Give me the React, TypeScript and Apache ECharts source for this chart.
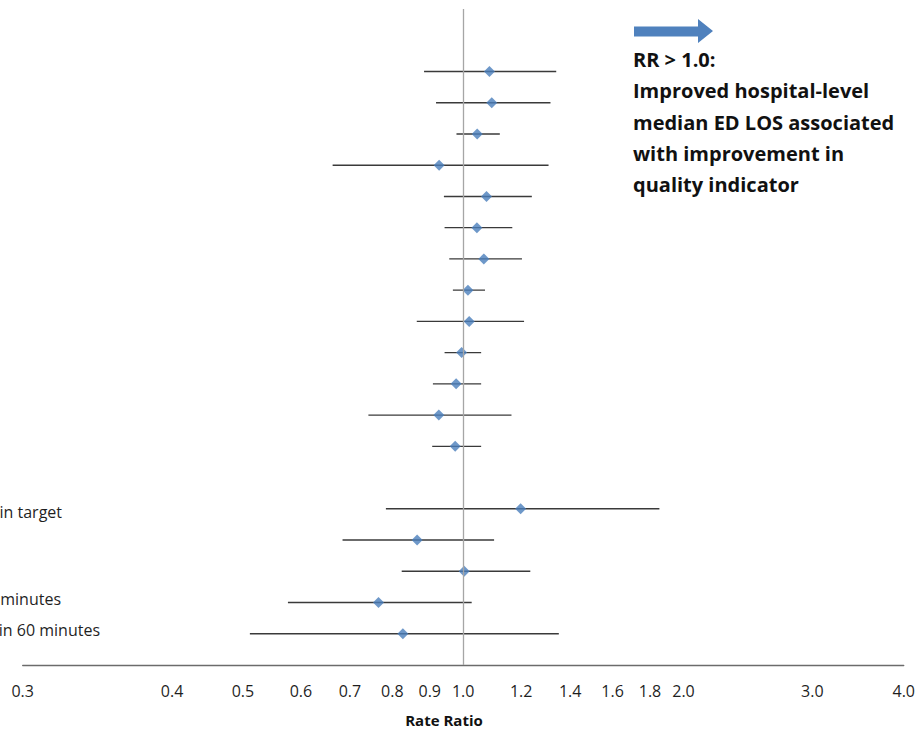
import React, { useEffect, useRef } from "react";
import * as echarts from "echarts";

// Row positions on the vertical value axis (row 6 is an empty spacer row)
const rowPositions = [19, 18, 17, 16, 15, 14, 13, 12, 11, 10, 9, 8, 7, 5, 4, 3, 2, 1];
const rateRatios = [1.086, 1.094, 1.045, 0.927, 1.076, 1.044, 1.067, 1.015, 1.019, 0.995, 0.978, 0.926, 0.975, 1.198, 0.865, 1.003, 0.766, 0.827];
const lowerCI = [0.884, 0.918, 0.979, 0.663, 0.941, 0.943, 0.957, 0.968, 0.864, 0.943, 0.909, 0.742, 0.907, 0.784, 0.684, 0.824, 0.576, 0.511];
const upperCI = [1.34, 1.316, 1.122, 1.308, 1.241, 1.167, 1.203, 1.071, 1.211, 1.058, 1.058, 1.164, 1.058, 1.854, 1.102, 1.235, 1.027, 1.351];

const tickValues = [0.25, 0.4, 0.5, 0.6, 0.7, 0.8, 0.9, 1.0, 1.2, 1.4, 1.6, 1.8, 2.0, 3.0, 4.0];
const tickLabels = ["0.3", "0.4", "0.5", "0.6", "0.7", "0.8", "0.9", "1.0", "1.2", "1.4", "1.6", "1.8", "2.0", "3.0", "4.0"];

const labelRows = [5, 2, 1];
const labelTexts = ["Proportion seen within target", "Proportion seen in 30 minutes", "Proportion seen within 60 minutes"];
const labelRightX = [62, 61, 100];
const labelYOffset = [3, -4, -4];

const annotationLines = [
  "RR > 1.0:",
  "Improved hospital-level",
  "median ED LOS associated",
  "with improvement in",
  "quality indicator",
];

const FONT = "'Open Sans', 'Noto Sans', sans-serif";

export default function App() {
  const ref = useRef<HTMLDivElement>(null);

  useEffect(() => {
    if (!ref.current) return;
    const chart = echarts.init(ref.current, undefined, { renderer: "svg" });
    const lg = (v: number) => Math.log10(v);

    const ciData = rowPositions.map((r, i) => [lg(lowerCI[i]), lg(upperCI[i]), r]);
    const pointData = rowPositions.map((r, i) => [lg(rateRatios[i]), r]);

    chart.setOption({
      animation: false,
      grid: { left: 22.7, right: 12, top: 9, bottom: 64, containLabel: false },
      xAxis: {
        type: "value",
        min: lg(0.25),
        max: lg(4),
        axisLine: { show: true, lineStyle: { color: "#6b6b6b", width: 1.3 } },
        axisTick: { show: false },
        splitLine: { show: false },
        axisLabel: {
          customValues: tickValues.map(lg),
          margin: 18,
          fontSize: 16,
          fontFamily: FONT,
          color: "#1f1f1f",
          formatter: (v: number) => {
            const idx = tickValues.findIndex((t) => Math.abs(lg(t) - v) < 1e-6);
            return idx >= 0 ? tickLabels[idx] : "";
          },
        },
      },
      yAxis: {
        type: "value",
        min: 0,
        max: 21,
        show: false,
      },
      series: [
        {
          type: "custom",
          data: ciData,
          encode: { x: [0, 1], y: 2 },
          renderItem: (params: any, api: any) => {
            const a = api.coord([api.value(0), api.value(2)]);
            const b = api.coord([api.value(1), api.value(2)]);
            return {
              type: "line",
              shape: { x1: a[0], y1: a[1], x2: b[0], y2: b[1] },
              style: { stroke: "#3a3a3a", lineWidth: 1.4 },
            };
          },
          z: 2,
        },
        {
          type: "scatter",
          data: pointData,
          symbol: "diamond",
          symbolSize: 11,
          itemStyle: { color: "#4a7ebb" },
          z: 3,
          markLine: {
            silent: true,
            symbol: ["none", "none"],
            label: { show: false },
            lineStyle: { color: "#a6a6a6", width: 1.3, type: "solid" },
            data: [{ xAxis: 0 }],
          },
        },
      ],
    });

    const rowLabelGraphics = labelRows.map((r, i) => {
      const y = chart.convertToPixel({ yAxisIndex: 0 }, r) as number;
      return {
        type: "text",
        x: labelRightX[i],
        y: y + labelYOffset[i],
        style: {
          text: labelTexts[i],
          align: "right",
          verticalAlign: "middle",
          fontSize: 16,
          fontFamily: FONT,
          fill: "#1f1f1f",
        },
      };
    });

    chart.setOption({
      graphic: [
        {
          type: "polygon",
          shape: {
            points: [
              [634, 26.5],
              [698, 26.5],
              [698, 19],
              [713, 31],
              [698, 43],
              [698, 36.5],
              [634, 36.5],
            ],
          },
          style: { fill: "#4f81bd" },
        },
        {
          type: "text",
          x: 633,
          y: 44,
          style: {
            text: annotationLines.join("\n"),
            align: "left",
            verticalAlign: "top",
            fontSize: 20,
            fontWeight: "bold",
            lineHeight: 31.3,
            fontFamily: FONT,
            fill: "#111111",
          },
        },
        {
          type: "text",
          x: 444,
          y: 720,
          style: {
            text: "Rate Ratio",
            align: "center",
            verticalAlign: "middle",
            fontSize: 15,
            fontWeight: "bold",
            fontFamily: FONT,
            fill: "#111111",
          },
        },
        ...rowLabelGraphics,
      ],
    });

    return () => chart.dispose();
  }, []);

  return (
    <div
      ref={ref}
      style={{ position: "absolute", left: 0, top: 0, width: 918, height: 729 }}
    />
  );
}
